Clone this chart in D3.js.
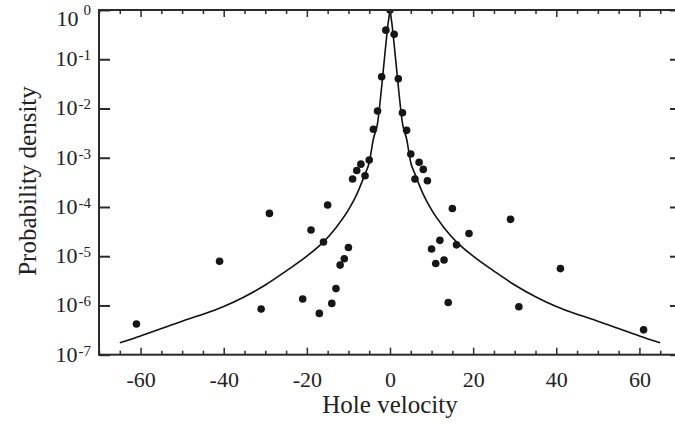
<!DOCTYPE html>
<html>
<head>
<meta charset="utf-8">
<script src="https://cdn.jsdelivr.net/npm/d3@7"></script>
<style>
	body { margin: 0; background: #fff; }
	svg, svg text { font-family: "Liberation Serif", "DejaVu Serif", "Times New Roman", serif; }
</style>
</head>
<body>
<div id="graph"></div>
<script>
let width = 675;
let height = 425;

// plot frame (right edge runs past the window, like the original)
let padding = {
	top: 10,
	bottom: 354.7,
	left: 99,
	right: 681
	};

// measured points
let velocity = [-61, -41, -31, -29, -21, -19, -17, -16, -15, -14, -13, -12, -11, -10,
	-9, -8, -7, -6, -5, -4, -3, -2, -1, 0, 1, 2, 3, 4, 5, 6, 7, 8, 9,
	10, 11, 12, 13, 14, 15, 16, 19, 29, 31, 41, 61];
let density = [4.2e-7, 7.9e-6, 8.5e-7, 7.4e-5, 1.35e-6, 3.4e-5, 6.9e-7, 1.95e-5, 1.1e-4, 1.1e-6, 2.2e-6, 6.6e-6, 8.9e-6, 1.5e-5,
	3.7e-4, 5.5e-4, 7.4e-4, 4.3e-4, 9.0e-4, 3.8e-3, 8.9e-3, 4.4e-2, 0.39, 1.0, 0.32, 0.040, 8.2e-3, 3.6e-3, 1.19e-3, 3.7e-4, 8.1e-4, 5.8e-4, 3.4e-4,
	1.4e-5, 7.1e-6, 2.1e-5, 8.4e-6, 1.15e-6, 9.3e-5, 1.7e-5, 2.9e-5, 5.6e-5, 9.4e-7, 5.6e-6, 3.2e-7];

// fitted curve
let curveV = [-65, -60, -55, -50, -45, -40, -35, -30, -25, -20, -16, -13, -10, -8, -6, -5, -4, -3, -2, -1, -0.5, 0,
	0.5, 1, 2, 3, 4, 5, 6, 8, 10, 13, 16, 20, 25, 30, 35, 40, 45, 50, 55, 60, 65];
let curveP = [1.74e-7, 2.4e-7, 3.4e-7, 4.8e-7, 6.6e-7, 9.5e-7, 1.5e-6, 2.6e-6, 5.0e-6, 1.0e-5, 1.95e-5, 3.8e-5, 8.7e-5, 1.8e-4, 4.7e-4, 7.9e-4, 2.4e-3, 5.0e-3, 2.8e-2, 0.2, 0.5, 1.0,
	0.5, 0.2, 2.8e-2, 5.0e-3, 2.4e-3, 7.9e-4, 4.7e-4, 1.8e-4, 8.7e-5, 3.8e-5, 1.95e-5, 1.0e-5, 5.0e-6, 2.6e-6, 1.5e-6, 9.5e-7, 6.6e-7, 4.8e-7, 3.4e-7, 2.4e-7, 1.74e-7];

let xTicks = [-60, -40, -20, 0, 20, 40, 60];
let xMinorTicks = [-70, -65, -55, -50, -45, -35, -30, -25, -15, -10, -5, 5, 10, 15, 25, 30, 35, 45, 50, 55, 65, 70];
let yExponents = [0, -1, -2, -3, -4, -5, -6, -7];

let xLabel = "Hole velocity";
let yLabel = "Probability density";

let axisColour = "#2b2b2b";
let serif = "'Liberation Serif', 'DejaVu Serif', 'Times New Roman', serif";

let svg = d3.select("#graph")
	.append("svg")
		.attr("width", width)
		.attr("height", height)
	;

let xScale = d3.scaleLinear()
	.domain([-70, 70])
	.range([padding.left, padding.right])
	;
let yScale = d3.scaleLog()
	.domain([1e-7, 1])
	.range([padding.bottom, padding.top])
	;

// clip marks to the frame
svg.append("clipPath")
	.attr("id", "plotClip")
	.append("rect")
		.attr("x", padding.left)
		.attr("y", padding.top)
		.attr("width", padding.right - padding.left)
		.attr("height", padding.bottom - padding.top)
	;

let plot = svg.append("g").attr("clip-path", "url(#plotClip)");

// curve: draw each branch on its own so the peak stays sharp
let curvePts = curveV.map((v, i) => ({v: v, p: curveP[i]}));
let line = d3.line()
	.x(d => xScale(d.v))
	.y(d => yScale(d.p))
	.curve(d3.curveMonotoneX)
	;
[curvePts.filter(d => d.v <= 0), curvePts.filter(d => d.v >= 0)].forEach(branch => {
	plot.append("path")
		.datum(branch)
		.attr("d", line)
		.attr("fill", "none")
		.attr("stroke", "#111")
		.attr("stroke-width", 1.6)
		;
	});

// points
plot.selectAll("circle")
	.data(velocity.map((v, i) => ({v: v, p: density[i]})))
	.enter()
		.append("circle")
			.attr("cx", d => xScale(d.v))
			.attr("cy", d => yScale(d.p))
			.attr("r", 3.8)
			.attr("fill", "#161616")
	;

// x axes, top and bottom, ticks pointing inward
function xAxisAt(axisFn, y, values, size, labels) {
	let g = svg.append("g")
		.attr("transform", `translate(0, ${y})`)
		.call(axisFn(xScale)
			.tickValues(values)
			.tickSize(size)
			.tickPadding(labels ? 17 : 0)
			.tickFormat(labels ? (d => d) : ""))
		;
	g.attr("font-family", serif).attr("font-size", 22);
	g.select(".domain").remove();
	g.selectAll("line").attr("stroke", axisColour).attr("stroke-width", 1.5);
	g.selectAll("text").attr("fill", "#222");
	}
xAxisAt(d3.axisBottom, padding.bottom, xTicks, -7, true);
xAxisAt(d3.axisBottom, padding.bottom, xMinorTicks, -4, false);
xAxisAt(d3.axisTop, padding.top, xTicks, -7, false);
xAxisAt(d3.axisTop, padding.top, xMinorTicks, -4, false);

// y axes, left and right
let yValues = yExponents.map(e => Math.pow(10, e));
[[d3.axisLeft, padding.left], [d3.axisRight, padding.right]].forEach(([fn, x]) => {
	let g = svg.append("g")
		.attr("transform", `translate(${x}, 0)`)
		.call(fn(yScale).tickValues(yValues).tickSize(-11).tickFormat(""))
		;
	g.select(".domain").remove();
	g.selectAll("line").attr("stroke", axisColour).attr("stroke-width", 2);
	});

// y tick labels as 10 with a superscript (top one pushed down to stay on the page)
let yText = svg.append("g")
	.attr("font-family", serif)
	.selectAll("text")
	.data(yExponents)
	.enter()
		.append("text")
			.attr("x", 91)
			.attr("y", e => yScale(Math.pow(10, e)) + (e === 0 ? 16 : 7))
			.attr("text-anchor", "end")
			.attr("fill", "#222")
			.attr("font-size", 22)
	;
yText.append("tspan").text("10");
yText.append("tspan")
	.attr("dx", e => e === 0 ? 5 : 1)
	.attr("dy", e => e === 0 ? -11 : -6)
	.attr("font-size", 15)
	.text(e => e === 0 ? "0" : "-" + Math.abs(e));

// frame
svg.append("rect")
	.attr("x", padding.left)
	.attr("y", padding.top)
	.attr("width", padding.right - padding.left)
	.attr("height", padding.bottom - padding.top)
	.attr("fill", "none")
	.attr("stroke", axisColour)
	.attr("stroke-width", 2)
	;

// axis titles
svg.append("text")
	.attr("x", xScale(0))
	.attr("y", 413)
	.attr("text-anchor", "middle")
	.attr("fill", "#222")
	.attr("font-family", serif)
	.attr("font-size", 25)
	.text(xLabel)
	;
svg.append("text")
	.attr("transform", `translate(36, 181) rotate(-90)`)
	.attr("text-anchor", "middle")
	.attr("fill", "#222")
	.attr("font-family", serif)
	.attr("font-size", 25)
	.text(yLabel)
	;
</script>
</body>
</html>
